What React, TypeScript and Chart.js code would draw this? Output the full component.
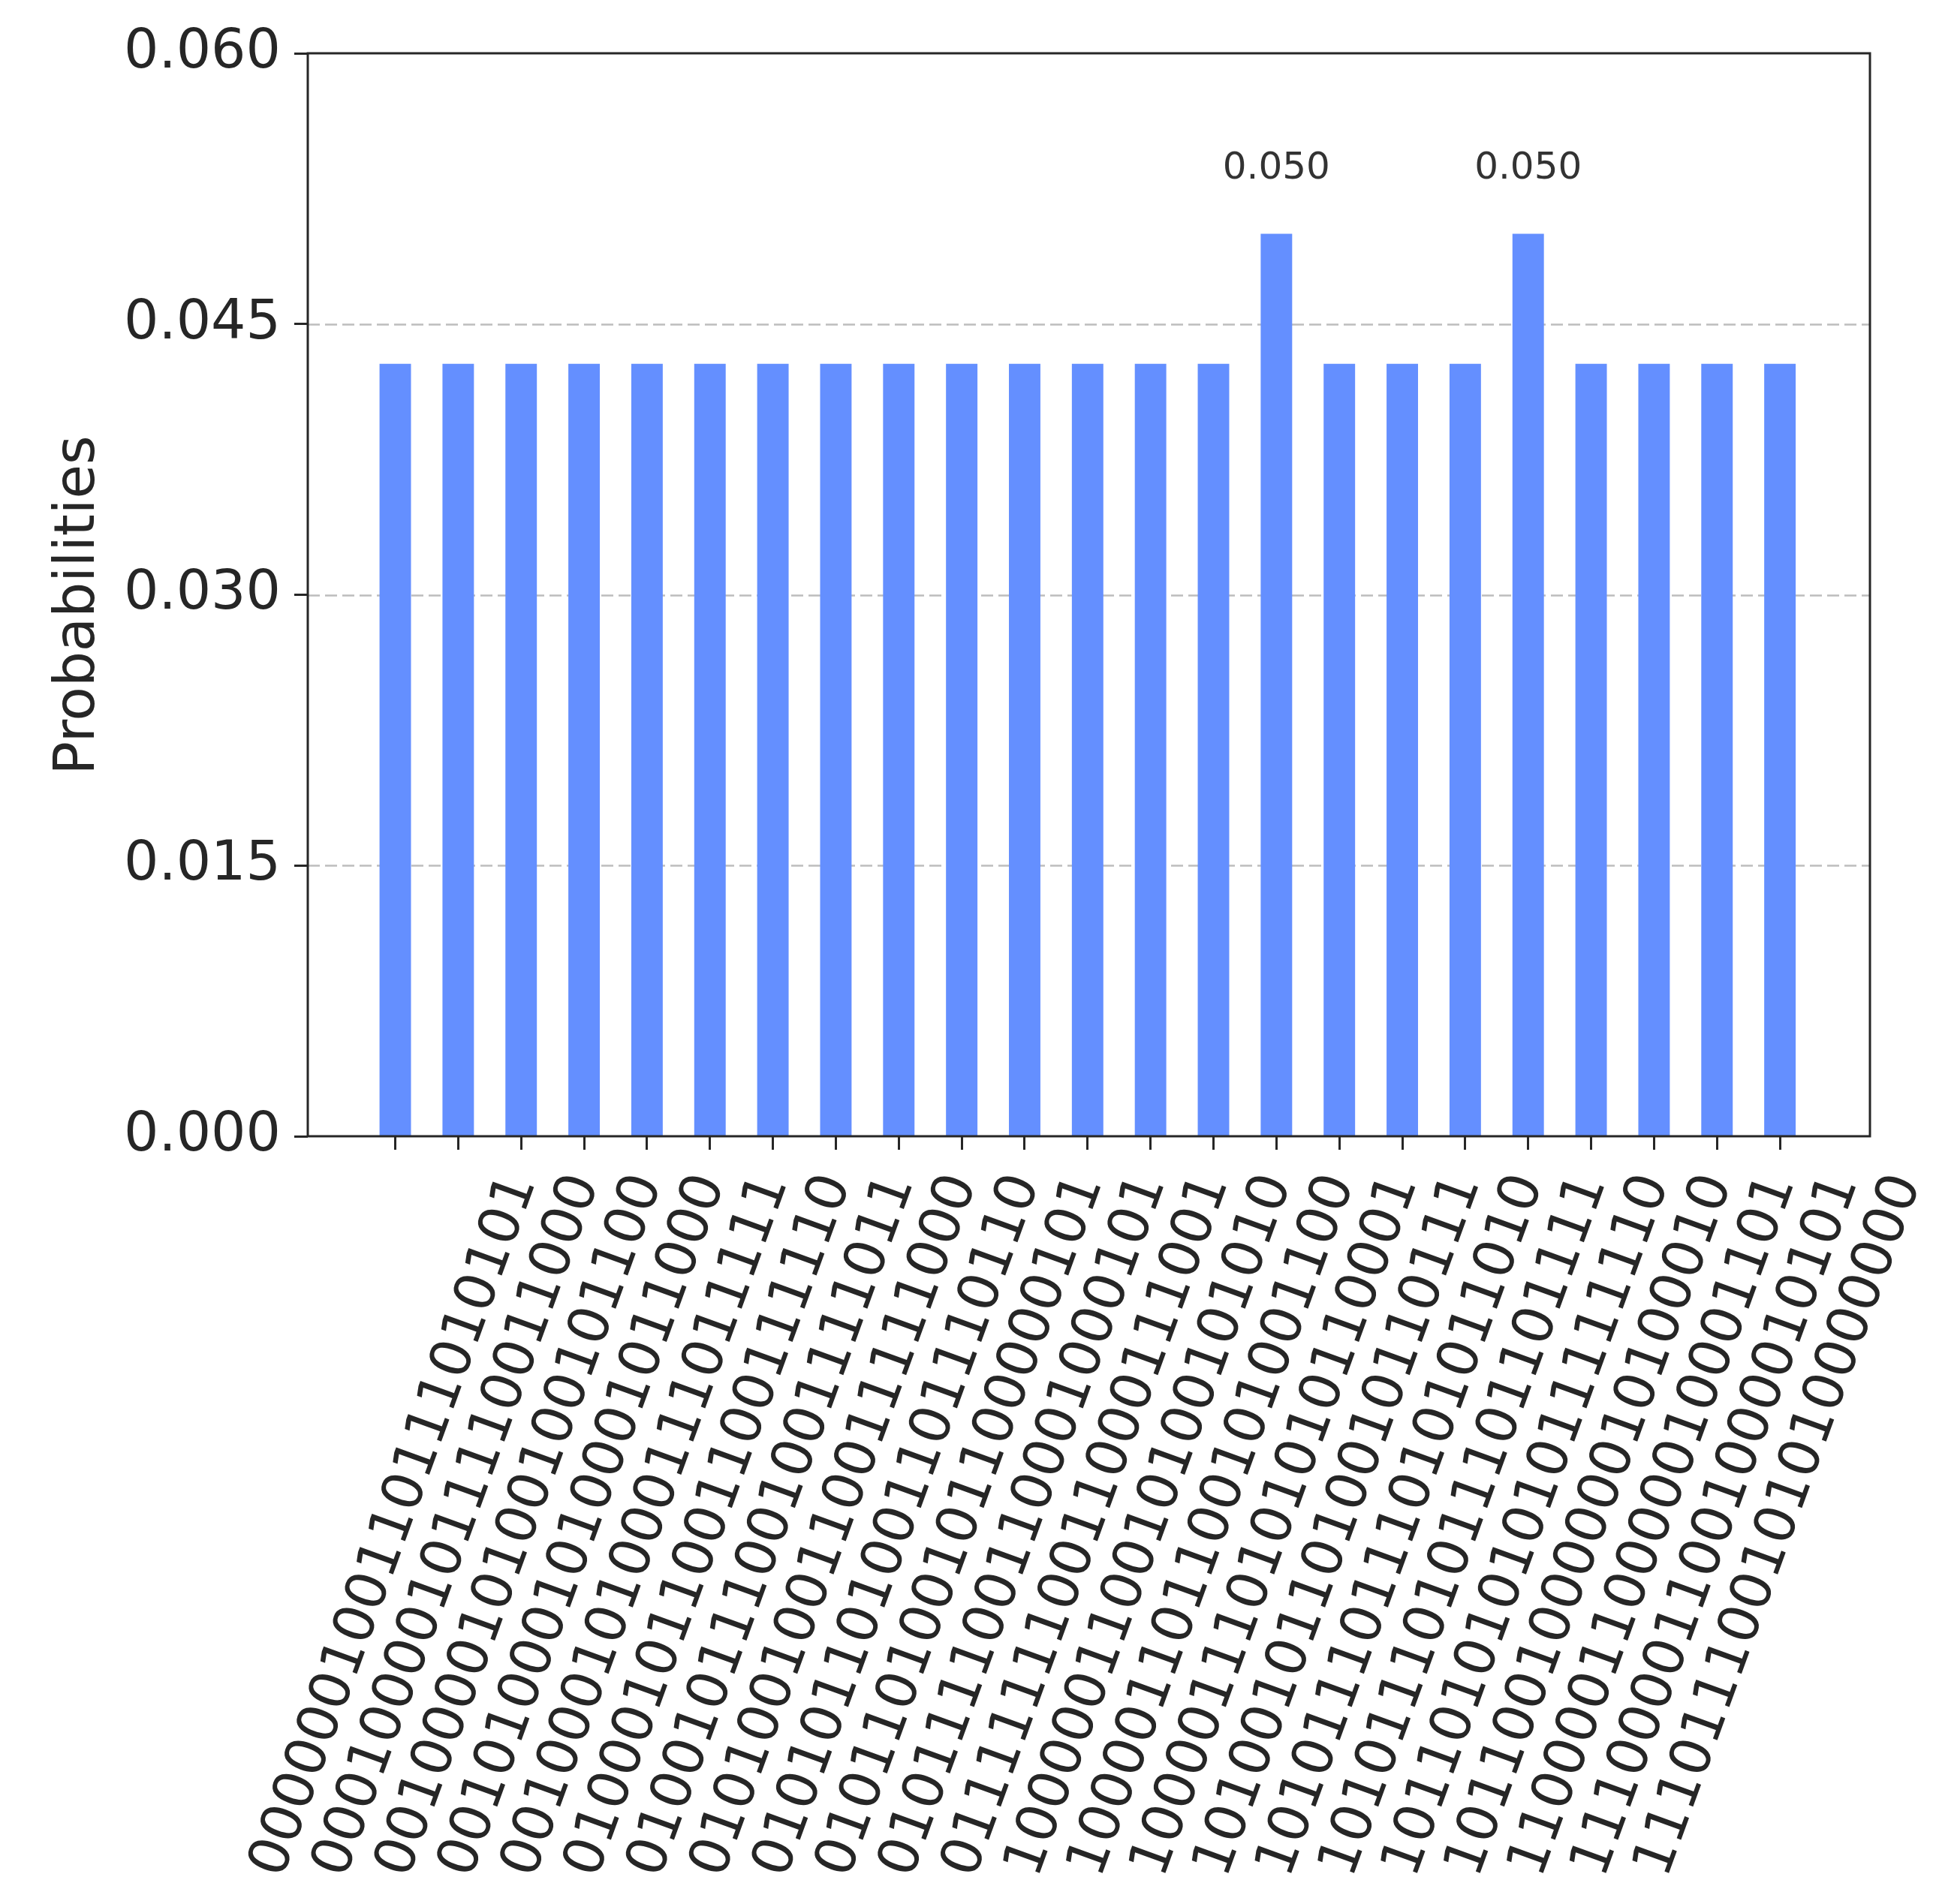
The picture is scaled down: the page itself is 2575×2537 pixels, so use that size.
import React, { useEffect, useRef } from "react";
import { Chart, registerables } from "chart.js";

Chart.register(...registerables);

// ---- data ----
const bitstrings: string[] = [
  "000000100110111010101",
  "000100001011110011000",
  "001000010100100101100",
  "001010001010001011000",
  "001000101000111011111",
  "010001011001100111110",
  "010010111001001111011",
  "010100100110011111000",
  "010101101001101110110",
  "010110100101100000101",
  "010111100110001000101",
  "011111110011000111001",
  "100000110010100101010",
  "100001101100101001100",
  "100001110101010110001",
  "101001011010010110111",
  "101011101110101011010",
  "101011101011101101111",
  "101101010101011111110",
  "101100100000010100010",
  "110000110000010001101",
  "111000011001000010101",
  "111011100101010000000",
];

const probabilities: number[] = [
  0.0428, 0.0428, 0.0428, 0.0428, 0.0428, 0.0428, 0.0428, 0.0428,
  0.0428, 0.0428, 0.0428, 0.0428, 0.0428, 0.0428, 0.05, 0.0428,
  0.0428, 0.0428, 0.05, 0.0428, 0.0428, 0.0428, 0.0428,
];

const yTicks: number[] = [0, 0.015, 0.03, 0.045, 0.06];
const yAxisTitle = "Probabilities";

// ---- style ----
const FONT = '"DejaVu Sans", "Liberation Sans", sans-serif';
const TEXT_COLOR = "#262626";
const BAR_COLOR = "#648fff";
const SPINE_COLOR = "#262626";
const FONT_SIZE = 74;
const ROT = (70 * Math.PI) / 180;

const mplPlugin = {
  id: "mplStyle",
  beforeDatasetsDraw(chart: any) {
    const { ctx, chartArea, scales } = chart;
    const y = scales.y;
    ctx.save();
    ctx.strokeStyle = "#bdbdbd";
    ctx.lineWidth = 2.5;
    ctx.setLineDash([16, 7]);
    y.ticks.forEach((t: any) => {
      if (t.value <= y.min || t.value >= y.max) return;
      const py = Math.round(y.getPixelForValue(t.value)) + 0.5;
      ctx.beginPath();
      ctx.moveTo(chartArea.left, py);
      ctx.lineTo(chartArea.right, py);
      ctx.stroke();
    });
    ctx.restore();
  },
  afterDatasetsDraw(chart: any) {
    const { ctx, chartArea, scales } = chart;
    const x = scales.x;
    const y = scales.y;
    ctx.save();
    // frame
    ctx.strokeStyle = SPINE_COLOR;
    ctx.lineWidth = 3;
    ctx.setLineDash([]);
    ctx.strokeRect(chartArea.left, chartArea.top, chartArea.right - chartArea.left, chartArea.bottom - chartArea.top);

    // y-axis title
    ctx.save();
    ctx.fillStyle = TEXT_COLOR;
    ctx.font = `${FONT_SIZE}px ${FONT}`;
    ctx.translate(98, (chartArea.top + chartArea.bottom) / 2 + 14);
    ctx.rotate(-Math.PI / 2);
    ctx.textAlign = "center";
    ctx.textBaseline = "middle";
    ctx.fillText(yAxisTitle, 0, 0);
    ctx.restore();

    // value annotations on the highest bars
    const maxVal = Math.max(...probabilities);
    ctx.fillStyle = "#333333";
    ctx.font = `50px ${FONT}`;
    ctx.textAlign = "center";
    ctx.textBaseline = "middle";
    probabilities.forEach((v, i) => {
      if (v < maxVal) return;
      const px = x.getPixelForValue(i);
      const py = y.getPixelForValue(v) - 86;
      ctx.fillText(v.toFixed(3), px, py);
    });

    // rotated x tick labels, bounding box centred on the tick (matplotlib style)
    ctx.fillStyle = TEXT_COLOR;
    ctx.font = `${FONT_SIZE}px ${FONT}`;
    const H = FONT_SIZE * 1.0;
    bitstrings.forEach((s, i) => {
      const W = ctx.measureText(s).width;
      const bh = W * Math.sin(ROT) + H * Math.cos(ROT);
      const cx = x.getPixelForValue(i);
      const cy = chartArea.bottom + 42 + bh / 2;
      ctx.save();
      ctx.translate(cx, cy);
      ctx.rotate(-ROT);
      ctx.textAlign = "center";
      ctx.textBaseline = "middle";
      ctx.fillText(s, 0, 0);
      ctx.restore();
    });
    ctx.restore();
  },
};

export default function App() {
  const canvasRef = useRef<HTMLCanvasElement | null>(null);

  useEffect(() => {
    if (!canvasRef.current) return;
    const chart = new Chart(canvasRef.current, {
      type: "bar",
      data: {
        datasets: [
          {
            data: probabilities.map((v, i) => ({ x: i, y: v })),
            backgroundColor: BAR_COLOR,
            borderWidth: 0,
            barPercentage: 0.5,
            categoryPercentage: 1.0,
          },
        ],
      },
      options: {
        animation: false,
        responsive: false,
        events: [],
        layout: { padding: { left: 0, top: 63, right: 76, bottom: 0 } },
        plugins: {
          legend: { display: false },
          tooltip: { enabled: false },
        },
        scales: {
          x: {
            type: "linear",
            min: -1.39,
            max: 23.43,
            offset: false,
            afterBuildTicks: (scale: any) => {
              scale.ticks = bitstrings.map((_, i) => ({ value: i }));
            },
            afterFit: (scale: any) => {
              scale.height = 1015;
            },
            ticks: { display: false },
            border: { display: false },
            grid: {
              offset: false,
              drawOnChartArea: false,
              drawTicks: true,
              tickLength: 18,
              tickWidth: 3,
              tickColor: SPINE_COLOR,
            },
          },
          y: {
            type: "linear",
            min: 0,
            max: 0.06,
            afterBuildTicks: (scale: any) => {
              scale.ticks = yTicks.map((v) => ({ value: v }));
            },
            afterFit: (scale: any) => {
              scale.width = 402;
            },
            ticks: {
              padding: 18,
              color: TEXT_COLOR,
              font: { family: FONT, size: 73 },
              callback: (v: any) => Number(v).toFixed(3),
            },
            border: { display: false },
            grid: {
              drawOnChartArea: false,
              drawTicks: true,
              tickLength: 18,
              tickWidth: 3,
              tickColor: SPINE_COLOR,
            },
            title: { display: false },
          },
        },
      },
      plugins: [mplPlugin],
    });
    return () => chart.destroy();
  }, []);

  return (
    <div style={{ width: 2559, height: 2521 }}>
      <canvas ref={canvasRef} width={2559} height={2521} style={{ display: "block" }} />
    </div>
  );
}
